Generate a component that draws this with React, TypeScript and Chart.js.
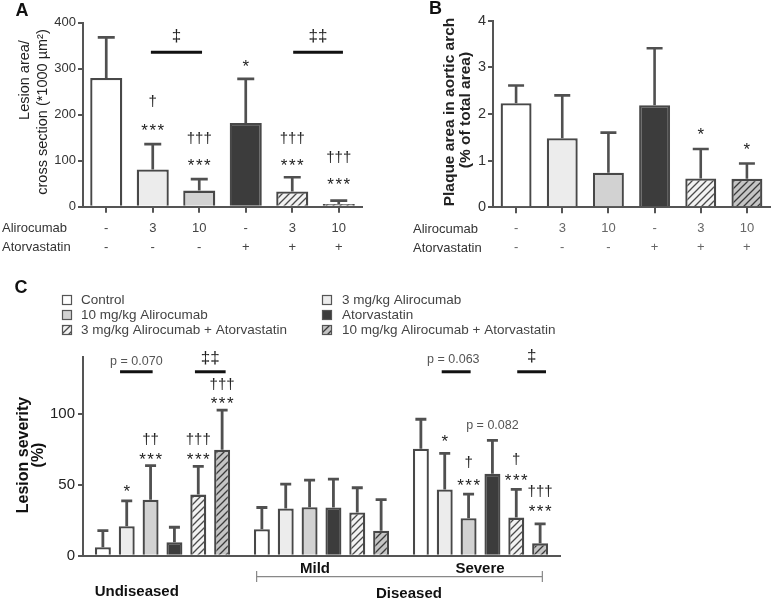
import React, { useEffect, useRef } from 'react';
import { Chart, registerables } from 'chart.js';

Chart.register(...registerables);

const FONT = "'Liberation Sans', Arial, Helvetica, sans-serif";

// ---------------- data ----------------
const treatments = [
  'Control',
  '3 mg/kg Alirocumab',
  '10 mg/kg Alirocumab',
  'Atorvastatin',
  '3 mg/kg Alirocumab + Atorvastatin',
  '10 mg/kg Alirocumab + Atorvastatin',
];
const alirocumabDose = ['-', '3', '10', '-', '3', '10'];
const atorvastatinUse = ['-', '-', '-', '+', '+', '+'];

// Panel A: lesion area / cross section (*1000 µm²)
const lesionAreaMean = [280, 81, 35, 182, 33, 6];
const lesionAreaErr = [88, 55, 25, 96, 31, 7];
const lesionAreaTicks = [0, 100, 200, 300, 400];

// Panel B: plaque area in aortic arch (% of total area)
const plaqueMean = [2.23, 1.48, 0.74, 2.19, 0.62, 0.61];
const plaqueErr = [0.38, 0.92, 0.86, 1.22, 0.63, 0.33];
const plaqueTicks = [0, 1, 2, 3, 4];

// Panel C: lesion severity (%)
const severityGroups = ['Undiseased', 'Mild', 'Severe'];
const severityTicks = [0, 50, 100];
const sevControl = [5.9, 18.6, 75.3];
const sevControlErr = [11.7, 15.3, 20.7];
const sevAli3 = [20.7, 33.2, 46.6];
const sevAli3Err = [17.9, 17.2, 25.4];
const sevAli10 = [39.3, 34.1, 26.4];
const sevAli10Err = [24.0, 19.1, 16.9];
const sevAtor = [9.4, 33.9, 57.6];
const sevAtorErr = [10.6, 20.0, 23.6];
const sevAli3Ator = [43.0, 30.4, 26.8];
const sevAli3AtorErr = [19.8, 17.4, 19.8];
const sevAli10Ator = [74.6, 17.6, 8.7];
const sevAli10AtorErr = [27.8, 21.9, 13.7];

// significance marks: dataset, category index, value where the mark sits, text
const marksA = [
  { ds: 0, i: 1, y: 225, text: '†' },
  { ds: 0, i: 1, y: 171, text: '***' },
  { ds: 0, i: 2, y: 145, text: '†††' },
  { ds: 0, i: 2, y: 95, text: '***' },
  { ds: 0, i: 3, y: 312, text: '*' },
  { ds: 0, i: 4, y: 145, text: '†††' },
  { ds: 0, i: 4, y: 95, text: '***' },
  { ds: 0, i: 5, y: 104, text: '†††' },
  { ds: 0, i: 5, y: 54, text: '***' },
];
const bracketsA = [
  { from: 0.96, to: 2.06, y: 336, text: '‡', textY: 368 },
  { from: 4.02, to: 5.09, y: 336, text: '‡‡', textY: 368 },
];
const marksB = [
  { ds: 0, i: 4, y: 1.62, text: '*' },
  { ds: 0, i: 5, y: 1.3, text: '*' },
];
const marksC = [
  { ds: 1, i: 0, y: 47.1, text: '*' },
  { ds: 2, i: 0, y: 80.5, text: '††' },
  { ds: 2, i: 0, y: 69.9, text: '***' },
  { ds: 4, i: 0, y: 80.5, text: '†††' },
  { ds: 4, i: 0, y: 69.9, text: '***' },
  { ds: 5, i: 0, y: 119.3, text: '†††' },
  { ds: 5, i: 0, y: 109.2, text: '***' },
  { ds: 1, i: 2, y: 82.4, text: '*' },
  { ds: 2, i: 2, y: 64.7, text: '†' },
  { ds: 2, i: 2, y: 51.1, text: '***' },
  { ds: 4, i: 2, y: 66.3, text: '†' },
  { ds: 4, i: 2, y: 55.3, text: '***' },
  { ds: 5, i: 2, y: 44.0, text: '†††' },
  { ds: 5, i: 2, y: 33.5, text: '***' },
  { ds: 3, i: 2, y: 91.7, text: 'p = 0.082' },
];
const bracketsC = [
  { from: -0.267, to: -0.062, y: 129.4, text: 'p = 0.070', textY: 136.9 },
  { from: 0.204, to: 0.397, y: 129.4, text: '‡‡', textY: 138.1 },
  { from: 1.756, to: 1.938, y: 129.4, text: 'p = 0.063', textY: 138.1, textX: 1.829 },
  { from: 2.231, to: 2.412, y: 129.4, text: '‡', textY: 139.5 },
];

// ---------------- helpers ----------------
function makeHatch(ctx: CanvasRenderingContext2D, bg: string, line: string, size = 7) {
  const c = document.createElement('canvas');
  c.width = size;
  c.height = size;
  const g = c.getContext('2d')!;
  g.fillStyle = bg;
  g.fillRect(0, 0, size, size);
  g.strokeStyle = line;
  g.lineWidth = 1.3;
  g.beginPath();
  g.moveTo(-1, size + 1);
  g.lineTo(size + 1, -1);
  g.moveTo(-1, 1);
  g.lineTo(1, -1);
  g.moveTo(size - 1, size + 1);
  g.lineTo(size + 1, size - 1);
  g.stroke();
  return ctx.createPattern(c, 'repeat') as CanvasPattern;
}

function fillsFor(ctx: CanvasRenderingContext2D) {
  return [
    '#ffffff',
    '#ececec',
    '#d2d2d2',
    '#3c3c3c',
    makeHatch(ctx, '#f2f2f2', '#4a4a4a'),
    makeHatch(ctx, '#c4c4c4', '#3a3a3a'),
  ];
}

function drawText(
  ctx: CanvasRenderingContext2D,
  text: string,
  x: number,
  y: number,
  font: string,
  color: string,
  align: CanvasTextAlign = 'center',
  rotate = 0
) {
  ctx.save();
  ctx.font = font;
  ctx.fillStyle = color;
  ctx.textAlign = align;
  ctx.textBaseline = 'middle';
  ctx.translate(x, y);
  if (rotate) ctx.rotate(rotate);
  ctx.fillText(text, 0, 0);
  ctx.restore();
}

function drawSig(ctx: CanvasRenderingContext2D, text: string, x: number, y: number) {
  const isP = text.startsWith('p');
  const stars = /^\*+$/.test(text);
  const daggers = /^[†‡]+$/.test(text);
  const fs = isP ? 12.5 : text.includes('‡') ? 17 : stars ? 17 : 15;
  let dy = 0;
  if (stars) dy = 0.22 * fs;
  else if (daggers) dy = -0.08 * fs;
  ctx.save();
  ctx.font = `${fs}px ${FONT}`;
  ctx.fillStyle = isP ? '#555' : '#222';
  ctx.textAlign = 'center';
  ctx.textBaseline = 'middle';
  if (stars) (ctx as any).letterSpacing = '1.5px';
  ctx.fillText(text, x + (stars ? 0.75 : 0), y + dy);
  ctx.restore();
}

function drawErrorBars(chart: any, capHalf: number, width: number) {
  const ctx = chart.ctx as CanvasRenderingContext2D;
  const ys = chart.scales.y;
  ctx.save();
  ctx.strokeStyle = '#505050';
  ctx.lineWidth = width;
  chart.data.datasets.forEach((ds: any, di: number) => {
    const meta = chart.getDatasetMeta(di);
    meta.data.forEach((bar: any, i: number) => {
      const top = ys.getPixelForValue(ds.data[i] + ds.errors[i]);
      ctx.beginPath();
      ctx.moveTo(bar.x, bar.y);
      ctx.lineTo(bar.x, top);
      ctx.moveTo(bar.x - capHalf, top);
      ctx.lineTo(bar.x + capHalf, top);
      ctx.stroke();
    });
  });
  ctx.restore();
}

function drawMarks(chart: any, marks: { ds: number; i: number; y: number; text: string }[]) {
  const ys = chart.scales.y;
  marks.forEach((m) => {
    const bar = chart.getDatasetMeta(m.ds).data[m.i];
    drawSig(chart.ctx, m.text, bar.x, ys.getPixelForValue(m.y));
  });
}

function drawBrackets(chart: any, list: any[]) {
  const ctx = chart.ctx as CanvasRenderingContext2D;
  const xs = chart.scales.x;
  const ys = chart.scales.y;
  list.forEach((b) => {
    const y = ys.getPixelForValue(b.y);
    ctx.save();
    ctx.strokeStyle = '#111';
    ctx.lineWidth = 3;
    ctx.beginPath();
    ctx.moveTo(xs.getPixelForValue(b.from), y);
    ctx.lineTo(xs.getPixelForValue(b.to), y);
    ctx.stroke();
    ctx.restore();
    const tx = xs.getPixelForValue(b.textX !== undefined ? b.textX : (b.from + b.to) / 2);
    drawSig(ctx, b.text, tx, ys.getPixelForValue(b.textY));
  });
}

const axisGrid = (tickLength: number, extra: any = {}) => ({
  display: true,
  drawOnChartArea: false,
  drawTicks: true,
  tickLength,
  color: '#555',
  lineWidth: 2,
  ...extra,
});
const axisBorder = { display: true, color: '#555', width: 2 };

// ---------------- charts ----------------
function makeA(canvas: HTMLCanvasElement) {
  const ctx = canvas.getContext('2d')!;
  const fills = fillsFor(ctx);
  return new Chart(ctx, {
    type: 'bar',
    data: {
      labels: treatments,
      datasets: [
        {
          data: lesionAreaMean,
          errors: lesionAreaErr,
          backgroundColor: fills,
          borderColor: '#484848',
          borderWidth: 2.3,
          barPercentage: 0.69,
          categoryPercentage: 1,
        } as any,
      ],
    },
    options: {
      animation: false,
      responsive: false,
      events: [],
      layout: { padding: { top: 22.7, right: 28, left: 0, bottom: 0 } },
      plugins: { legend: { display: false }, tooltip: { enabled: false } },
      scales: {
        x: {
          grid: axisGrid(6, { offset: false }),
          border: axisBorder,
          ticks: {
            autoSkip: false,
            maxRotation: 0,
            color: '#444',
            padding: 6,
            font: { size: 13, lineHeight: '19px' },
            callback: (_v: any, i: number) => [alirocumabDose[i], atorvastatinUse[i]],
          },
          afterFit: (s: any) => {
            s.height = 63.3;
          },
        },
        y: {
          min: 0,
          max: 400,
          grid: axisGrid(5),
          border: axisBorder,
          ticks: { color: '#333', padding: 2, font: { size: 13 } },
          afterBuildTicks: (s: any) => {
            s.ticks = lesionAreaTicks.map((v) => ({ value: v }));
          },
          afterFit: (s: any) => {
            s.width = 83;
          },
        },
      },
    } as any,
    plugins: [
      {
        id: 'panelA',
        afterDatasetsDraw(chart: any) {
          drawErrorBars(chart, 8.5, 2.7);
        },
        afterDraw(chart: any) {
          const c = chart.ctx;
          drawText(c, 'A', 22, 11, `bold 18px ${FONT}`, '#111');
          drawText(c, 'Lesion area/', 25, 80, `14.5px ${FONT}`, '#222', 'center', -Math.PI / 2);
          drawText(c, 'cross section (*1000 µm²)', 43, 112, `14.5px ${FONT}`, '#222', 'center', -Math.PI / 2);
          drawText(c, 'Alirocumab', 2, 228, `13px ${FONT}`, '#333', 'left');
          drawText(c, 'Atorvastatin', 2, 247, `13px ${FONT}`, '#333', 'left');
          drawBrackets(chart, bracketsA);
          drawMarks(chart, marksA);
        },
      },
    ],
  });
}

function makeB(canvas: HTMLCanvasElement) {
  const ctx = canvas.getContext('2d')!;
  const fills = fillsFor(ctx);
  return new Chart(ctx, {
    type: 'bar',
    data: {
      labels: treatments,
      datasets: [
        {
          data: plaqueMean,
          errors: plaqueErr,
          backgroundColor: fills,
          borderColor: '#484848',
          borderWidth: 2.3,
          barPercentage: 0.67,
          categoryPercentage: 1,
        } as any,
      ],
    },
    options: {
      animation: false,
      responsive: false,
      events: [],
      layout: { padding: { top: 20.7, right: 4, left: 0, bottom: 0 } },
      plugins: { legend: { display: false }, tooltip: { enabled: false } },
      scales: {
        x: {
          grid: axisGrid(6, { offset: false }),
          border: axisBorder,
          ticks: {
            autoSkip: false,
            maxRotation: 0,
            color: '#666',
            padding: 6,
            font: { size: 13, lineHeight: '19px' },
            callback: (_v: any, i: number) => [alirocumabDose[i], atorvastatinUse[i]],
          },
          afterFit: (s: any) => {
            s.height = 62.7;
          },
        },
        y: {
          min: 0,
          max: 4,
          grid: axisGrid(5),
          border: axisBorder,
          ticks: { color: '#333', padding: 2, font: { size: 14.5 } },
          afterBuildTicks: (s: any) => {
            s.ticks = plaqueTicks.map((v) => ({ value: v }));
          },
          afterFit: (s: any) => {
            s.width = 103;
          },
        },
      },
    } as any,
    plugins: [
      {
        id: 'panelB',
        afterDatasetsDraw(chart: any) {
          drawErrorBars(chart, 8, 2.6);
        },
        afterDraw(chart: any) {
          const c = chart.ctx;
          drawText(c, 'B', 45.5, 9, `bold 18px ${FONT}`, '#111');
          drawText(c, 'Plaque area in aortic arch', 60, 112, `bold 15.5px ${FONT}`, '#222', 'center', -Math.PI / 2);
          drawText(c, '(% of total area)', 76, 110, `bold 15.5px ${FONT}`, '#222', 'center', -Math.PI / 2);
          drawText(c, 'Alirocumab', 23, 229, `13px ${FONT}`, '#333', 'left');
          drawText(c, 'Atorvastatin', 23, 248, `13px ${FONT}`, '#333', 'left');
          drawMarks(chart, marksB);
        },
      },
    ],
  });
}

function makeC(canvas: HTMLCanvasElement) {
  const ctx = canvas.getContext('2d')!;
  const fills = fillsFor(ctx);
  const means = [sevControl, sevAli3, sevAli10, sevAtor, sevAli3Ator, sevAli10Ator];
  const errs = [sevControlErr, sevAli3Err, sevAli10Err, sevAtorErr, sevAli3AtorErr, sevAli10AtorErr];
  return new Chart(ctx, {
    type: 'bar',
    data: {
      labels: severityGroups,
      datasets: treatments.map(
        (t, k) =>
          ({
            label: t,
            data: means[k],
            errors: errs[k],
            backgroundColor: fills[k],
            borderColor: '#484848',
            borderWidth: 2.3,
            barPercentage: 0.67,
            categoryPercentage: 0.9,
          }) as any
      ),
    },
    options: {
      animation: false,
      responsive: false,
      events: [],
      layout: { padding: { top: 86.7, right: 214, left: 0, bottom: 0 } },
      plugins: { legend: { display: false }, tooltip: { enabled: false } },
      scales: {
        x: {
          grid: { display: false, drawTicks: false },
          border: axisBorder,
          ticks: { display: false },
          afterFit: (s: any) => {
            s.height = 44.3;
          },
        },
        y: {
          min: 0,
          max: 140,
          grid: axisGrid(5),
          border: axisBorder,
          ticks: { color: '#222', padding: 3, font: { size: 15 } },
          afterBuildTicks: (s: any) => {
            s.ticks = severityTicks.map((v) => ({ value: v }));
          },
          afterFit: (s: any) => {
            s.width = 83;
          },
        },
      },
    } as any,
    plugins: [
      {
        id: 'panelC',
        afterDatasetsDraw(chart: any) {
          drawErrorBars(chart, 5.5, 2.8);
        },
        afterDraw(chart: any) {
          const c = chart.ctx as CanvasRenderingContext2D;
          const xs = chart.scales.x;
          drawText(c, 'C', 21, 18, `bold 18px ${FONT}`, '#111');
          // legend (two columns, row-major)
          chart.data.datasets.forEach((ds: any, k: number) => {
            const col = k % 2;
            const row = Math.floor(k / 2);
            const ix = col === 0 ? 62 : 322;
            const tx = col === 0 ? 81 : 342;
            const y = 30 + row * 15;
            c.save();
            c.fillStyle = ds.backgroundColor;
            c.fillRect(ix, y - 5, 10, 10);
            c.strokeStyle = '#555';
            c.lineWidth = 1.2;
            c.strokeRect(ix + 0.5, y - 4.5, 9, 9);
            c.restore();
            drawText(c, ds.label, tx, y, `13.5px ${FONT}`, '#444', 'left');
          });
          // y title
          drawText(c, 'Lesion severity', 24, 185, `bold 16px ${FONT}`, '#111', 'center', -Math.PI / 2);
          drawText(c, '(%)', 39, 185, `bold 16px ${FONT}`, '#111', 'center', -Math.PI / 2);
          // category labels
          drawText(c, severityGroups[1], xs.getPixelForValue(0.959), 299, `bold 15px ${FONT}`, '#111');
          drawText(c, severityGroups[2], xs.getPixelForValue(1.997), 299, `bold 15px ${FONT}`, '#111');
          drawText(c, severityGroups[0], xs.getPixelForValue(-0.162), 321.5, `bold 15px ${FONT}`, '#111');
          // diseased bracket
          const bx0 = xs.getPixelForValue(0.592);
          const bx1 = xs.getPixelForValue(2.389);
          c.save();
          c.strokeStyle = '#888';
          c.lineWidth = 1.2;
          c.beginPath();
          c.moveTo(bx0, 306.7);
          c.lineTo(bx1, 306.7);
          c.moveTo(bx0, 301);
          c.lineTo(bx0, 312);
          c.moveTo(bx1, 301);
          c.lineTo(bx1, 312);
          c.stroke();
          c.restore();
          drawText(c, 'Diseased', xs.getPixelForValue(1.55), 324, `bold 15px ${FONT}`, '#111');
          drawBrackets(chart, bracketsC);
          drawMarks(chart, marksC);
        },
      },
    ],
  });
}

export default function App() {
  const refA = useRef<HTMLCanvasElement>(null);
  const refB = useRef<HTMLCanvasElement>(null);
  const refC = useRef<HTMLCanvasElement>(null);

  useEffect(() => {
    Chart.defaults.font.family = FONT;
    const charts = [makeA(refA.current!), makeB(refB.current!), makeC(refC.current!)];
    return () => charts.forEach((ch) => ch.destroy());
  }, []);

  return (
    <div style={{ position: 'absolute', left: 0, top: 0, width: 774, height: 600, background: '#fff' }}>
      <canvas ref={refA} width={390} height={270} style={{ position: 'absolute', left: 0, top: 0 }} />
      <canvas ref={refB} width={384} height={270} style={{ position: 'absolute', left: 390, top: 0 }} />
      <canvas ref={refC} width={774} height={330} style={{ position: 'absolute', left: 0, top: 270 }} />
    </div>
  );
}
